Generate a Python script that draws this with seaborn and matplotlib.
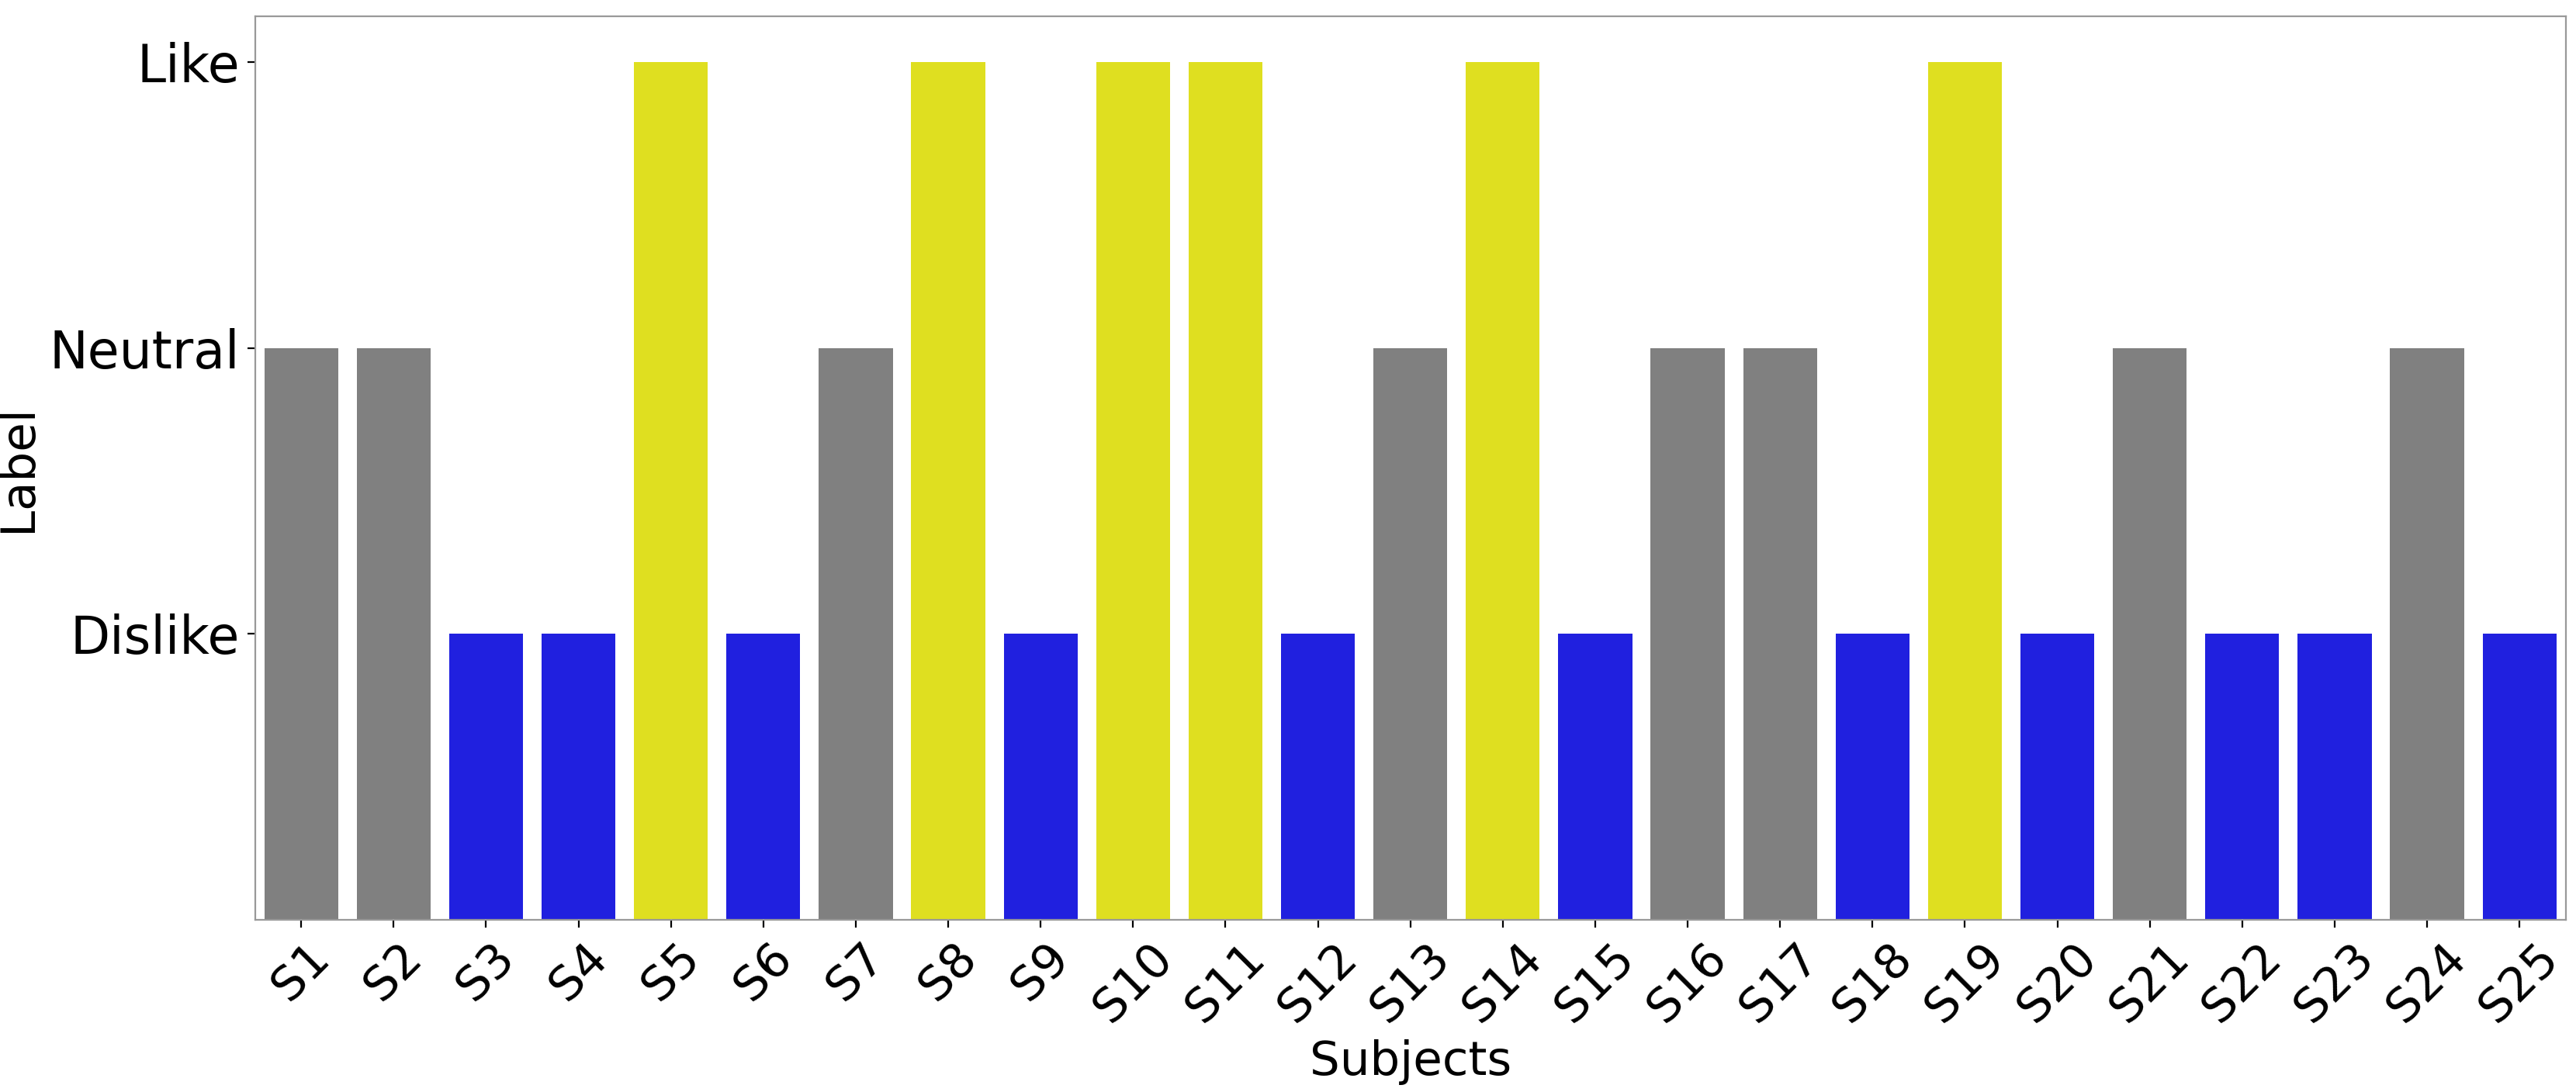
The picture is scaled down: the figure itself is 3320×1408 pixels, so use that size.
import numpy as np
import pandas as pd
import matplotlib
matplotlib.use("Agg")
import matplotlib.pyplot as plt
import seaborn as sns

subjects = [f"S{i}" for i in range(1, 26)]
labels = ["Neutral", "Neutral", "Dislike", "Dislike", "Like", "Dislike", "Neutral", "Like",
          "Dislike", "Like", "Like", "Dislike", "Neutral", "Like", "Dislike", "Neutral",
          "Neutral", "Dislike", "Like", "Dislike", "Neutral", "Dislike", "Dislike", "Neutral",
          "Dislike"]
label_values = {"Dislike": 1, "Neutral": 2, "Like": 3}
palette = {"Dislike": "blue", "Neutral": "gray", "Like": "yellow"}

df = pd.DataFrame({"Subjects": subjects, "Label": labels})
df["Value"] = df["Label"].map(label_values)

fig, ax = plt.subplots(figsize=(16.6, 7.04), dpi=200)
sns.barplot(data=df, x="Subjects", y="Value", hue="Label", palette=palette,
            legend=False, ax=ax, dodge=False)
ax.set_ylim(0, 3.16)
ax.set_yticks([1, 2, 3])
ax.set_yticklabels(["Dislike", "Neutral", "Like"], fontsize=24)
ax.tick_params(axis="x", labelsize=22, rotation=45)
ax.set_xlabel("Subjects", fontsize=22)
ax.set_ylabel("Label", fontsize=22)
for s in ax.spines.values():
    s.set_color("#999999")
fig.subplots_adjust(left=0.099, right=0.996, top=0.985, bottom=0.158)
fig.savefig("out.png")
